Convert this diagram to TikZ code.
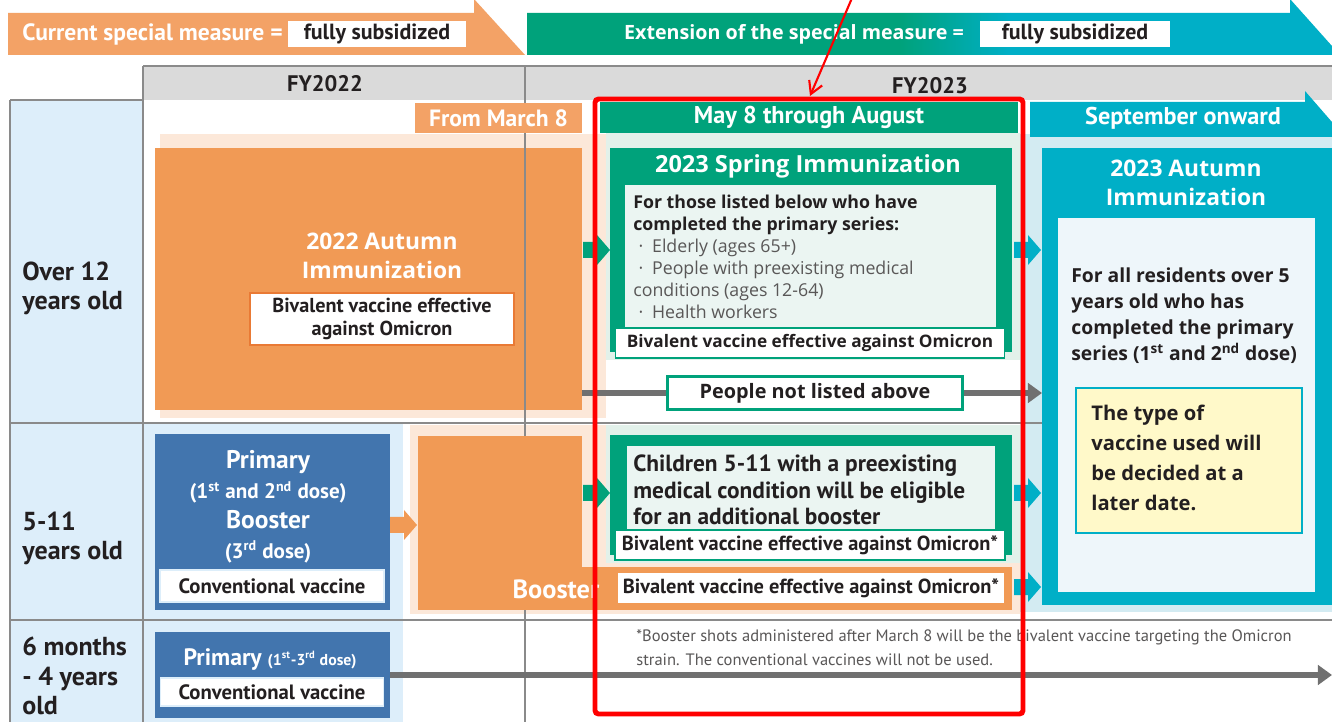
\documentclass[tikz,border=0pt]{standalone}
\usepackage{fontspec}
\setmainfont{Open Sans}
\newfontfamily\narrowfont{PT Sans}
\usetikzlibrary{arrows.meta,fit}
\definecolor{orangeA}{HTML}{F19A55}
\definecolor{orangeB}{HTML}{F3A266}
\definecolor{orangeD}{HTML}{E97A35}
\definecolor{peach}{HTML}{FCE8D9}
\definecolor{greenA}{HTML}{00A27B}
\definecolor{greenP}{HTML}{E2F1EA}
\definecolor{greenI}{HTML}{EBF5F2}
\definecolor{cyanA}{HTML}{00AFC7}
\definecolor{cyanP}{HTML}{D3EBF2}
\definecolor{cyanI}{HTML}{EEF6FA}
\definecolor{yellowP}{HTML}{FFF9C9}
\definecolor{blueA}{HTML}{4275AE}
\definecolor{blueP}{HTML}{DDEEFA}
\definecolor{headgray}{HTML}{DADADA}
\definecolor{gridgray}{HTML}{8A8A8A}
\definecolor{ink}{HTML}{231F20}
\definecolor{softink}{HTML}{595757}
\definecolor{arrowgray}{HTML}{707070}
\newcommand{\setfs}[2]{\fontsize{#1}{#2}\selectfont}
\tikzset{
  area/.style={inner sep=0pt, outer sep=0pt},
  tagbox/.style={fill=white, inner sep=0pt, text=ink, font=\narrowfont\bfseries\setfs{11.8}{13}},
  tabtext/.style={text=white, inner sep=0pt, font=\narrowfont\bfseries\setfs{13.4}{15}},
  agetext/.style={anchor=west, align=left, inner sep=0pt, text=ink, font=\narrowfont\bfseries\setfs{14.8}{16.5}},
  boxtitle/.style={text=white, align=center, inner sep=0pt, font=\bfseries\setfs{13}{16.5}},
  bodytext/.style={anchor=west, align=left, inner sep=0pt, text=ink},
  grid line/.style={gridgray, line width=1.1pt},
  flow/.style={arrowgray, line width=3.4pt, -{Triangle[length=8pt,width=11pt]}},
  chevron/.pic={
    \fill (0,-8) -- (14,-8) -- (14,-15) -- (27,0) -- (14,15) -- (14,8) -- (0,8) -- cycle;
  }
}

\begin{document}
\begin{tikzpicture}[x=0.02cm, y=-0.02cm]
\useasboundingbox (0,0) rectangle (1332,722);
\fill[white] (0,0) rectangle (1332,722);

% top banners
\fill[orangeB] (8,13) -- (474,13) -- (474,-1) -- (525,55) -- (8,55) -- cycle;
\begin{scope}
  \clip (527,13) -- (1290,13) -- (1290,-1) -- (1340,55) -- (527,55) -- cycle;
  \fill[greenA] (527,-5) rectangle (900,60);
  \shade[left color=greenA, right color=cyanA] (900,-5) rectangle (1010,60);
  \fill[cyanA] (1010,-5) rectangle (1345,60);
\end{scope}
\node[tabtext, anchor=west] (curtext) at (22,34) {Current special measure =};
\node[tagbox, minimum width=3.56cm, minimum height=0.52cm, font=\narrowfont\bfseries\setfs{12.5}{15}] (curtag) at (377,34) {fully subsidized};
\node[tabtext, font=\bfseries\setfs{11.2}{15}] (exttext) at (794,34) {Extension of the special measure =};
\node[tagbox, minimum width=3.8cm, minimum height=0.52cm, font=\narrowfont\bfseries\setfs{12.5}{15}] (exttag) at (1075,34) {fully subsidized};

% fiscal years
\fill[headgray] (143,66) rectangle (1332,100);
\node[text=ink, font=\narrowfont\bfseries\setfs{12.8}{14}] (fy22) at (325,84) {FY2022};
\node[text=ink, font=\narrowfont\bfseries\setfs{12.8}{14}] (fy23) at (930,86) {FY2023};

% backgrounds
\fill[blueP] (10,100) rectangle (143,722);
\fill[blueP] (143,423) rectangle (403,722);
\fill[peach] (160,134) rectangle (606,418);
\fill[peach] (410,425) rectangle (1020,614);
\fill[greenP] (606,133) rectangle (1020,360);
\fill[greenP] (606,425) rectangle (1020,563);
\fill[cyanP] (1020,134) rectangle (1332,612);

\node[area, fill=orangeA, fit={(155,148) (582,410)}] (aut22) {};

% table lines
\draw[grid line] (143,66) -- (1332,66);
\draw[grid line] (10,100) -- (143,100);
\draw[grid line] (10,423) -- (1332,423);
\draw[grid line] (10,620) -- (1332,620);
\draw[grid line] (10,100) -- (10,722);
\draw[grid line] (143,66) -- (143,722);
\draw[grid line] (525,66) -- (525,722);

% period tabs
\node[area, fill=orangeB, fit={(415,103) (582,133)}] (marchtab) {};
\node[tabtext] (marchtext) at (marchtab) {From March 8};
\node[area, fill=greenA, fit={(600,102) (1018,133)}] (maytab) {};
\node[tabtext, font=\narrowfont\bfseries\setfs{13.8}{15}] (maytext) at (maytab) {May 8 through August};
\fill[cyanA] (1030,102) -- (1305,102) -- (1305,91) -- (1345,137) -- (1030,137) -- cycle;
\node[tabtext, font=\narrowfont\bfseries\setfs{13.8}{15}] (septext) at (1183,118) {September onward};

% age labels
\node[agetext] (age12) at (22,288) {Over 12\\years old};
\node[agetext] (age5) at (22,538) {5-11\\years old};
\node[agetext, font=\narrowfont\bfseries\setfs{14.8}{17}] (age0) at (22,676) {6 months\\- 4 years\\old};

% FY2022 boxes
\node[boxtitle] (aut22title) at (382,256) {2022 Autumn\\Immunization};
\node[tagbox, draw=orangeD, line width=0.8pt, align=center, minimum width=5.28cm, minimum height=1.04cm, font=\narrowfont\bfseries\setfs{11.5}{13.5}] (aut22tag) at (382,319) {Bivalent vaccine effective\\against Omicron};

\node[area, fill=blueA, fit={(155,434) (390,610)}] (prim2) {};
\node[text=white, align=center, inner sep=0pt, font=\narrowfont\bfseries\setfs{12}{17}] (prim2text) at (268,507)
  {{\setfs{14.5}{17}Primary}\\(1\textsuperscript{st} and 2\textsuperscript{nd} dose)\\{\setfs{14.5}{17}Booster}\\(3\textsuperscript{rd} dose)};
\node[tagbox, draw=blueP, line width=0.8pt, minimum width=4.48cm, minimum height=0.64cm] (prim2tag) at (272,586) {Conventional vaccine};

\node[area, fill=blueA, fit={(155,632) (390,718)}] (prim3) {};
\node[text=white, inner sep=0pt, font=\narrowfont\bfseries\setfs{13.5}{15}] (prim3text) at (270,659)
  {Primary {\setfs{9}{11}(1\textsuperscript{st}-3\textsuperscript{rd} dose)}};
\node[tagbox, draw=blueP, line width=0.8pt, minimum width=4.46cm, minimum height=0.56cm] (prim3tag) at (272,692) {Conventional vaccine};

\node[area, fill=orangeA, fit={(418,436) (582,610)}] (boost22) {};
\node[area, fill=orangeA, fit={(582,567) (1012,610)}] (boostbar) {};
\node[text=white, inner sep=0pt, font=\narrowfont\bfseries\setfs{15}{16}] (boosttext) at (556,589) {Booster};
\node[tagbox, minimum width=7.72cm, minimum height=0.6cm, font=\narrowfont\bfseries\setfs{11.6}{13}] (boosttag) at (811,588) {Bivalent vaccine effective against Omicron*};

% spring 2023
\node[area, fill=greenA, fit={(610,148) (1012,352)}] (spring) {};
\node[boxtitle, font=\bfseries\setfs{13.4}{15}] (springtitle) at (808,166) {2023 Spring Immunization};
\node[area, fill=greenI, fit={(625,185) (996,328)}] (springin) {};
\node[bodytext, font=\setfs{10.1}{12.6}] (springtext) at (633,257)
  {\textbf{For those listed below who have}\\
   \textbf{completed the primary series:}\\
   {\color{softink}\hspace*{3pt}·\hspace{5pt}Elderly (ages 65+)}\\
   {\color{softink}\hspace*{3pt}·\hspace{5pt}People with preexisting medical}\\
   {\color{softink}conditions (ages 12-64)}\\
   {\color{softink}\hspace*{3pt}·\hspace{5pt}Health workers}};
\node[tagbox, draw=greenA, line width=1pt, minimum width=7.78cm, minimum height=0.6cm, font=\bfseries\setfs{9.8}{12}] (springtag) at (810,343) {Bivalent vaccine effective against Omicron};

\node[area, fill=greenA, fit={(610,435) (1012,555)}] (kids) {};
\node[area, fill=greenI, fit={(627,446) (995,530)}] (kidsin) {};
\node[bodytext, font=\narrowfont\bfseries\setfs{13.3}{15}] (kidstext) at (633,490)
  {Children 5-11 with a preexisting\\medical condition will be eligible\\for an additional booster};
\node[tagbox, draw=greenA, line width=1pt, minimum width=7.8cm, minimum height=0.6cm, font=\narrowfont\bfseries\setfs{11.6}{13}] (kidstag) at (810,545) {Bivalent vaccine effective against Omicron*};

% autumn 2023
\node[area, fill=cyanA, fit={(1042,148) (1332,605)}] (aut23) {};
\node[boxtitle] (aut23title) at (1186,183) {2023 Autumn\\Immunization};
\node[area, fill=cyanI, fit={(1058,218) (1315,592)}] (aut23in) {};
\node[bodytext, font=\bfseries\setfs{11}{14.8}] (aut23text) at (1071,316)
  {For all residents over 5\\years old who has\\completed the primary\\series (1\textsuperscript{st} and 2\textsuperscript{nd} dose)};
\node[area, fill=yellowP, draw=cyanA, line width=1pt, fit={(1076,388) (1302,533)}] (later) {};
\node[bodytext, font=\bfseries\setfs{11.5}{17}] (latertext) at (1091,458)
  {The type of\\vaccine used will\\be decided at a\\later date.};

% flows
\pic[greenA] at (583,250) {chevron};
\pic[greenA] at (583,493) {chevron};
\pic[cyanA] at (1014,250) {chevron};
\pic[cyanA] at (1014,493) {chevron};
\pic[cyanA] at (1014,587) {chevron};
\pic[orangeA] at (390,525) {chevron};
\coordinate (notrow) at (815,393);
\draw[flow] (aut22.east |- notrow) -- (aut23.west |- notrow);
\node[tagbox, draw=greenA, line width=1.2pt, minimum width=5.9cm, minimum height=0.66cm, font=\bfseries\setfs{11.3}{13}] (notlisted) at (notrow) {People not listed above};
\coordinate (rowend) at (1332,675);
\draw[flow] (prim3.east) -- (rowend);

% footnote
\node[bodytext, text=softink, font=\narrowfont\setfs{9.4}{13.6}] (footnote) at (636,648)
  {*Booster shots administered after March 8 will be the bivalent vaccine targeting the Omicron\\strain. The conventional vaccines will not be used.};

% highlight
\node[area, draw=red, line width=2.8pt, rounded corners=2pt, fit={(595,99) (1023,714)}] (redbox) {};
\coordinate (redsrc) at (852,-2);
\coordinate (redtip) at (810,96);
\draw[red, line width=1.2pt, -{Straight Barb[length=7pt,width=8pt]}] (redsrc) -- (redtip);
\end{tikzpicture}
\end{document}
